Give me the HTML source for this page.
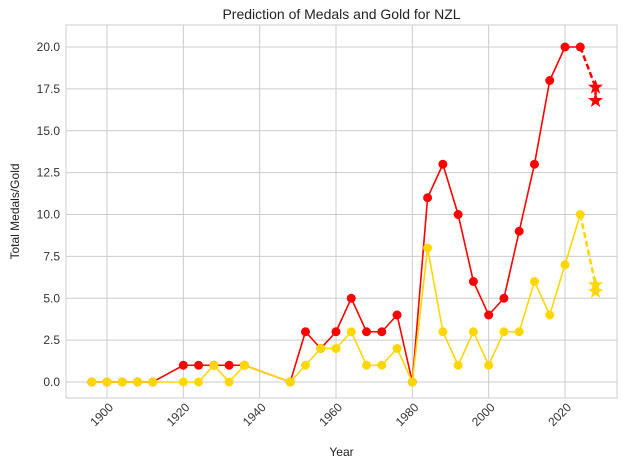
<!DOCTYPE html>
<html><head><meta charset="utf-8"><style>
body{margin:0;background:#fff;font-family:"Liberation Sans","DejaVu Sans",sans-serif}
</style></head><body>
<svg id="chart" width="630" height="470" xmlns="http://www.w3.org/2000/svg" font-family="Liberation Sans, DejaVu Sans, sans-serif"></svg>
<script>
const years=[1896,1900,1904,1908,1912,1920,1924,1928,1932,1936,1948,1952,1956,1960,1964,1968,1972,1976,1980,1984,1988,1992,1996,2000,2004,2008,2012,2016,2020,2024];
const totalMedals=[0,0,0,0,0,1,1,1,1,1,0,3,2,3,5,3,3,4,0,11,13,10,6,4,5,9,13,18,20,20];
const goldMedals=[0,0,0,0,0,0,0,1,0,1,0,1,2,2,3,1,1,2,0,8,3,1,3,1,3,3,6,4,7,10];
const predYear=2028;
const predTotal=[17.6,16.8];
const predGold=[5.8,5.4];
const xTicks=[1900,1920,1940,1960,1980,2000,2020];
const yTicks=[0,2.5,5,7.5,10,12.5,15,17.5,20];
const yTickLabels=["0.0","2.5","5.0","7.5","10.0","12.5","15.0","17.5","20.0"];

const L=66,R=617,T=25,B=398;
const x=v=>107+(v-1900)*(458/120);
const y=v=>382-v*16.75;
const svg=document.getElementById('chart');
const NS="http://www.w3.org/2000/svg";
function mk(t,a,p){const e=document.createElementNS(NS,t);for(const k in a)e.setAttribute(k,a[k]);(p||svg).appendChild(e);return e;}

const grid=mk('g',{});


xTicks.forEach(v=>mk('line',{x1:x(v),x2:x(v),y1:T,y2:B,stroke:'#cccccc','stroke-width':1},grid));
yTicks.forEach(v=>mk('line',{x1:L,x2:R,y1:y(v),y2:y(v),stroke:'#cccccc','stroke-width':1},grid));
const frame=mk('rect',{x:L,y:T,width:R-L,height:B-T,fill:'none',stroke:'#cccccc'});



xTicks.forEach(v=>{const px=x(v)+7,py=B+10;const t=mk('text',{x:px,y:py,'font-size':12,fill:'#333','text-anchor':'end',transform:`rotate(-45 ${px} ${py})`});t.textContent=v;

});
yTicks.forEach((v,i)=>{const t=mk('text',{x:L-6,y:y(v)+4,'font-size':12,fill:'#333','text-anchor':'end'});t.textContent=yTickLabels[i];

});

function star(cx,cy,r,col,p){let pts=[];for(let i=0;i<10;i++){const a=-Math.PI/2+i*Math.PI/5;const rr=i%2?r*0.4:r;pts.push((cx+rr*Math.cos(a)).toFixed(1)+','+(cy+rr*Math.sin(a)).toFixed(1));}return mk('polygon',{points:pts.join(' '),fill:col},p);}

function series(vals,pred,col,name){
  const g=mk('g',{});
  
  
  mk('polyline',{points:years.map((yr,i)=>x(yr)+','+y(vals[i])).join(' '),fill:'none',stroke:col,'stroke-width':1.6},g);
  years.forEach((yr,i)=>{const c=mk('circle',{cx:x(yr),cy:y(vals[i]),r:4.5,fill:col},g);
  
  });
  const last=years.length-1;
  const pts=[x(years[last])+','+y(vals[last])].concat(pred.map(p=>x(predYear)+','+y(p)));
  mk('polyline',{points:pts.join(' '),fill:'none',stroke:col,'stroke-width':2.5,'stroke-dasharray':'6,3'},g);
  pred.forEach(p=>{const s=star(x(predYear),y(p),8,col,g);
  
  });
}
series(totalMedals,predTotal,'#ff0000','total-medals');
series(goldMedals,predGold,'#ffd700','gold-medals');

const title=mk('text',{x:(L+R)/2,y:19,'font-size':14,fill:'#222','text-anchor':'middle'});title.textContent='Prediction of Medals and Gold for NZL';


const xt=mk('text',{x:(L+R)/2,y:456,'font-size':12,fill:'#222','text-anchor':'middle'});xt.textContent='Year';


const yt=mk('text',{x:19,y:(T+B)/2,'font-size':12,fill:'#222','text-anchor':'middle',transform:`rotate(-90 19 ${(T+B)/2})`});yt.textContent='Total Medals/Gold';


</script>
</body></html>
